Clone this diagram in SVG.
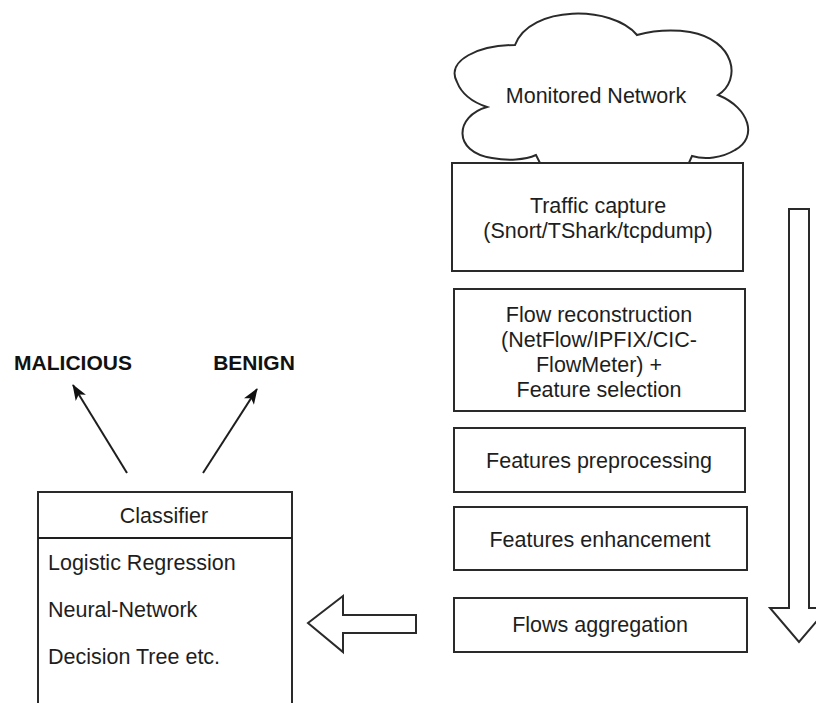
<svg xmlns="http://www.w3.org/2000/svg" width="816" height="703" viewBox="0 0 816 703">
<defs>
<style>
.box{fill:#fff;stroke:#2a2a2a;stroke-width:2}
.t{font-family:"Liberation Sans",Arial,sans-serif;font-size:21.5px;fill:#1e1e1e;text-anchor:middle}
.tl{font-family:"Liberation Sans",Arial,sans-serif;font-size:21.5px;fill:#1e1e1e}
.b{font-family:"Liberation Sans",Arial,sans-serif;font-size:21px;font-weight:bold;fill:#111;text-anchor:middle}
.edge{fill:none;stroke:#1e1e1e;stroke-width:2}
</style>
<marker id="ah" viewBox="0 0 16 12" refX="15" refY="6" markerWidth="16" markerHeight="12" markerUnits="userSpaceOnUse" orient="auto">
<path d="M0,0 L16,6 L0,12 L4,6 Z" fill="#111"/>
</marker>
</defs>
<rect width="816" height="703" fill="#fff"/>

<g id="cloud">
<path class="box" d="M487,107 C455,116 452,152 492,158 C508,161 525,160 536,155 L541,165 L688,165 L692,156 C705,160 722,158 735,150 C758,138 750,108 718,95 C742,80 735,40 690,32 C670,29 652,31 637,35 C612,5 530,5 515,45 C480,45 445,60 457,82 C462,95 475,103 487,107 Z"/>
<text class="t" x="596" y="103">Monitored Network</text>
</g>

<g id="traffic">
<rect class="box" x="452" y="163" width="291" height="108"/>
<text class="t" x="598" y="213">Traffic capture</text>
<text class="t" x="598" y="238">(Snort/TShark/tcpdump)</text>
</g>

<g id="flowrec">
<rect class="box" x="454" y="289" width="291" height="122"/>
<text class="t" x="599" y="322">Flow reconstruction</text>
<text class="t" x="599" y="347">(NetFlow/IPFIX/CIC-</text>
<text class="t" x="599" y="372">FlowMeter) +</text>
<text class="t" x="599" y="397">Feature selection</text>
</g>

<g id="preproc">
<rect class="box" x="454" y="428" width="291" height="64"/>
<text class="t" x="599" y="468">Features preprocessing</text>
</g>

<g id="enh">
<rect class="box" x="454" y="507" width="293" height="63"/>
<text class="t" x="600" y="547">Features enhancement</text>
</g>

<g id="agg">
<rect class="box" x="454" y="598" width="293" height="54"/>
<text class="t" x="600" y="632">Flows aggregation</text>
</g>

<g id="downarrow">
<polygon class="box" points="789,209 809,209 809,608 828,608 799,642 770,608 789,608"/>
</g>

<g id="leftarrow">
<polygon class="box" points="308,623 343,596 343,615 416,615 416,633 343,633 343,652"/>
</g>

<g id="classifier">
<rect class="box" x="38" y="492" width="254" height="230"/>
<line class="edge" x1="38" y1="538" x2="292" y2="538" stroke="#2a2a2a"/>
<text class="t" x="164" y="523">Classifier</text>
<text class="tl" x="48" y="570">Logistic Regression</text>
<text class="tl" x="48" y="617">Neural-Network</text>
<text class="tl" x="48" y="664">Decision Tree etc.</text>
</g>

<g id="malicious">
<text class="b" x="73" y="370">MALICIOUS</text>
</g>
<g id="benign">
<text class="b" x="254" y="370">BENIGN</text>
</g>

<g id="connectors">
<line class="edge" x1="127" y1="473" x2="73" y2="385" marker-end="url(#ah)"/>
<line class="edge" x1="203" y1="473" x2="257" y2="389" marker-end="url(#ah)"/>
</g>
</svg>
